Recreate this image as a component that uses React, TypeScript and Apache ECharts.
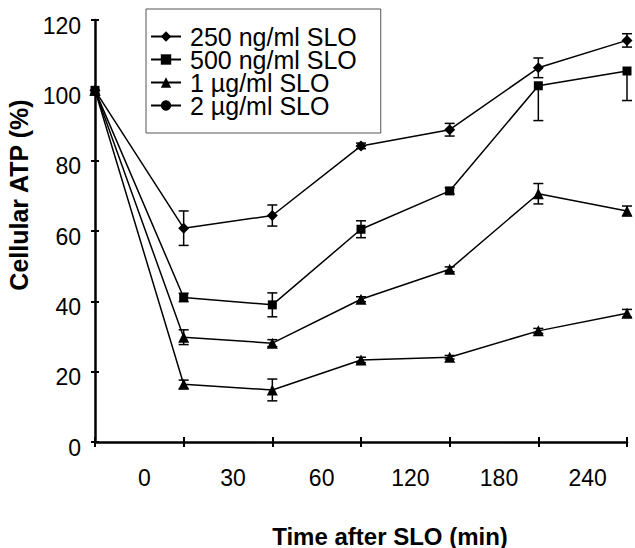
import React, { useEffect, useRef } from "react";
import * as echarts from "echarts";

// x positions of the samples (control, then each time point) on the time axis
const sampleSlots = [0, 1, 2, 3, 4, 5, 6];
// tick labels of the time axis (placed between ticks)
const timeLabels = ["0", "30", "60", "120", "180", "240"];

const seriesNames = ["250 ng/ml SLO", "500 ng/ml SLO", "1 µg/ml SLO", "2 µg/ml SLO"];

const slo250 = [100, 60.8, 64.4, 84.2, 88.8, 106.4, 114.2];
const slo250ErrUp = [0, 4.9, 3, 0.8, 1.8, 2.8, 1.9];
const slo250ErrDown = [0, 4.9, 3, 0.8, 1.8, 2.8, 1.9];

const slo500 = [100, 41.1, 39.0, 60.5, 71.4, 101.3, 105.5];
const slo500ErrUp = [0, 1.2, 3.4, 2.4, 0.9, 0, 0];
const slo500ErrDown = [0, 1.2, 3.4, 2.4, 0.9, 9.9, 8.4];

const slo1000 = [100, 29.8, 28.1, 40.6, 49.1, 70.6, 65.7];
const slo1000ErrUp = [0, 2.1, 1, 0.7, 0.7, 2.9, 1.4];
const slo1000ErrDown = [0, 2.1, 1, 0.7, 0.7, 2.9, 1.4];

const slo2000 = [100, 16.4, 14.8, 23.3, 24.1, 31.6, 36.6];
const slo2000ErrUp = [0, 1.2, 3.1, 0.8, 0.5, 0.7, 1.1];
const slo2000ErrDown = [0, 1.2, 3.1, 0.8, 0.5, 0.7, 1.1];

const yTicks = { min: 0, max: 120, interval: 20 };

const FONT = "'Liberation Sans', Arial, Helvetica, sans-serif";

function lineSeries(name: string, values: number[], symbol: string, size: number, pointSymbol?: string) {
  return {
    name,
    type: "line",
    xAxisIndex: 0,
    yAxisIndex: 0,
    symbol,
    symbolSize: size,
    showAllSymbol: true,
    z: 3,
    lineStyle: { color: "#000", width: 1.5 },
    itemStyle: { color: "#000" },
    emphasis: { disabled: true },
    data: values.map((v, i) =>
      pointSymbol ? { value: [sampleSlots[i], v], symbol: pointSymbol } : [sampleSlots[i], v]
    ),
  };
}

function errorSeries(values: number[], up: number[], down: number[]) {
  return {
    type: "custom",
    xAxisIndex: 0,
    yAxisIndex: 0,
    silent: true,
    z: 2,
    renderItem: (_params: any, api: any) => {
      const x = api.value(0);
      const v = api.value(1);
      const hi = api.value(2);
      const lo = api.value(3);
      const pHi = api.coord([x, hi]);
      const pLo = api.coord([x, lo]);
      const children: any[] = [];
      const style = { stroke: "#000", lineWidth: 1.5 };
      if (hi === v && lo === v) return { type: "group", children };
      children.push({ type: "line", shape: { x1: pHi[0], y1: pHi[1], x2: pLo[0], y2: pLo[1] }, style });
      if (hi > v)
        children.push({ type: "line", shape: { x1: pHi[0] - 5, y1: pHi[1], x2: pHi[0] + 5, y2: pHi[1] }, style });
      if (lo < v)
        children.push({ type: "line", shape: { x1: pLo[0] - 5, y1: pLo[1], x2: pLo[0] + 5, y2: pLo[1] }, style });
      return { type: "group", children };
    },
    data: values.map((v, i) => [sampleSlots[i], v, v + up[i], v - down[i]]),
  };
}

export default function App() {
  const ref = useRef<HTMLDivElement>(null);
  useEffect(() => {
    if (!ref.current) return;
    const chart = echarts.init(ref.current, null, { renderer: "svg" });
    const axisLine = { show: true, lineStyle: { color: "#000", width: 2.5 } };
    chart.setOption({
      animation: false,
      backgroundColor: "#fff",
      textStyle: { fontFamily: FONT },
      grid: { left: 95, right: 8, top: 20, bottom: 106, containLabel: false, outerBoundsMode: "none" },
      legend: {
        data: seriesNames,
        orient: "vertical",
        left: 146,
        top: 9,
        padding: [15, 24, 15, 4],
        itemGap: -2,
        itemWidth: 30,
        itemHeight: 13,
        selectedMode: false,
        borderColor: "#555",
        borderWidth: 1,
        textStyle: { fontSize: 25, color: "#000", fontFamily: FONT, padding: [0, 0, 0, 4] },
      },
      xAxis: [
        {
          type: "value",
          min: sampleSlots[0],
          max: sampleSlots[sampleSlots.length - 1],
          interval: 1,
          position: "bottom",
          axisLine,
          axisTick: { show: true, length: 5, lineStyle: { color: "#000", width: 2 } },
          axisLabel: { show: false },
          splitLine: { show: false },
        },
        {
          type: "value",
          min: sampleSlots[0],
          max: sampleSlots[sampleSlots.length - 1],
          interval: 1,
          position: "bottom",
          axisLine: { show: false },
          axisTick: { show: true, inside: true, length: 5, lineStyle: { color: "#000", width: 2 } },
          axisLabel: { show: false },
          splitLine: { show: false },
        },
        {
          type: "category",
          data: timeLabels,
          boundaryGap: true,
          position: "bottom",
          axisLine: { show: false },
          axisTick: { show: false },
          axisLabel: { fontSize: 23, color: "#000", margin: 24, fontFamily: FONT, padding: [0, 0, 0, 10] },
          name: "Time after SLO (min)",
          nameLocation: "middle",
          nameGap: 82,
          nameTextStyle: {
            fontSize: 24,
            fontWeight: "bold",
            color: "#000",
            fontFamily: FONT,
            padding: [0, 0, 0, 58],
          },
        },
      ],
      yAxis: [
        {
          type: "value",
          ...yTicks,
          axisLine,
          axisTick: { show: true, length: 4, lineStyle: { color: "#000", width: 2 } },
          axisLabel: {
            color: "#000",
            fontSize: 23,
            fontFamily: FONT,
            margin: 14,
            formatter: "{v|{value}}",
            rich: { v: { fontSize: 23, color: "#000", fontFamily: FONT, padding: [11, 0, 0, 0] } },
          },
          splitLine: { show: false },
          name: "Cellular ATP (%)",
          nameLocation: "middle",
          nameRotate: 90,
          nameGap: 58,
          nameTextStyle: {
            fontSize: 25,
            fontWeight: "bold",
            color: "#000",
            fontFamily: FONT,
            padding: [0, 0, 0, 72],
          },
        },
        {
          type: "value",
          ...yTicks,
          position: "left",
          axisLine: { show: false },
          axisTick: { show: true, inside: true, length: 4, lineStyle: { color: "#000", width: 2 } },
          axisLabel: { show: false },
          splitLine: { show: false },
        },
      ],
      series: [
        errorSeries(slo250, slo250ErrUp, slo250ErrDown),
        errorSeries(slo500, slo500ErrUp, slo500ErrDown),
        errorSeries(slo1000, slo1000ErrUp, slo1000ErrDown),
        errorSeries(slo2000, slo2000ErrUp, slo2000ErrDown),
        lineSeries(seriesNames[0], slo250, "diamond", 11),
        lineSeries(seriesNames[1], slo500, "rect", 9),
        lineSeries(seriesNames[2], slo1000, "triangle", 11),
        lineSeries(seriesNames[3], slo2000, "circle", 11, "triangle"),
      ],
    });
    return () => chart.dispose();
  }, []);
  return (
    <div
      ref={ref}
      style={{ position: "fixed", left: 0, top: 0, width: 635, height: 548, background: "#fff" }}
    />
  );
}
